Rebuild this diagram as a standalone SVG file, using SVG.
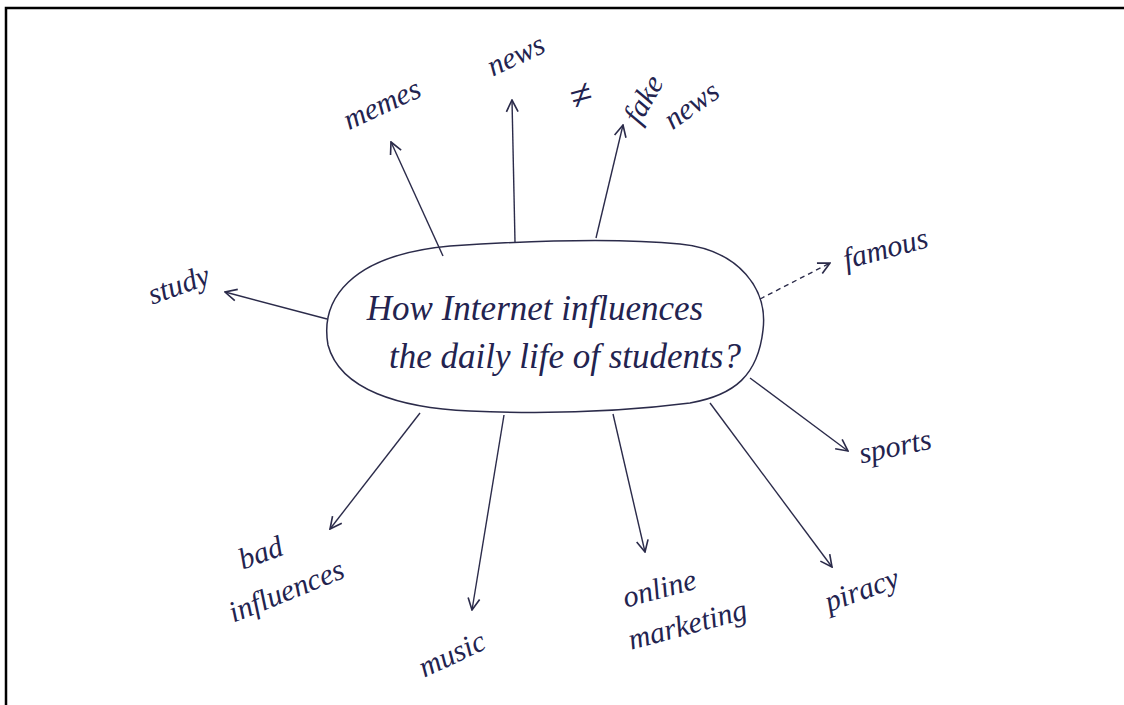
<svg xmlns="http://www.w3.org/2000/svg" width="1124" height="705" viewBox="0 0 1124 705">
<style>
.t{font-family:"Liberation Serif","DejaVu Serif",serif;font-style:italic;fill:#23234f;font-size:30px;text-anchor:middle}
.big{font-size:35px}
.ne{font-size:40px}
.c{fill:none;stroke:#2b2b4a;stroke-width:1.4}
.d{stroke-dasharray:5,4}
</style>
<defs>
<marker id="ah" viewBox="0 0 12 12" refX="11" refY="6" markerWidth="14" markerHeight="14" markerUnits="userSpaceOnUse" orient="auto">
<path d="M1,1 L11,6 L1,11" fill="none" stroke="#2b2b4a" stroke-width="1.4"/>
</marker>
</defs>
<rect width="1124" height="705" fill="#fff"/>
<path d="M6,705 V8 H1124" fill="none" stroke="#000" stroke-width="2.5"/>
<g id="center">
<path d="M450,246 C540,240 620,238 680,244 C740,250 768,290 763,330 C758,375 735,395 690,403 C620,412 540,414 470,411 C400,408 340,390 328,345 C320,300 350,255 450,246 Z" fill="none" stroke="#2b2b4a" stroke-width="1.5"/>
<text class="t big" x="535" y="320">How Internet influences</text>
<text class="t big" x="565" y="368">the daily life of students?</text>
</g>
<g id="connectors">
<line class="c" x1="443" y1="256" x2="391" y2="142" marker-end="url(#ah)"/>
<line class="c" x1="515" y1="242" x2="512" y2="100" marker-end="url(#ah)"/>
<line class="c" x1="596" y1="238" x2="623" y2="125" marker-end="url(#ah)"/>
<line class="c d" x1="760" y1="299" x2="830" y2="263" marker-end="url(#ah)"/>
<line class="c" x1="327" y1="319" x2="225" y2="292" marker-end="url(#ah)"/>
<line class="c" x1="420" y1="413" x2="330" y2="529" marker-end="url(#ah)"/>
<line class="c" x1="504" y1="415" x2="472" y2="610" marker-end="url(#ah)"/>
<line class="c" x1="613" y1="414" x2="645" y2="552" marker-end="url(#ah)"/>
<line class="c" x1="710" y1="403" x2="832" y2="567" marker-end="url(#ah)"/>
<line class="c" x1="750" y1="378" x2="848" y2="451" marker-end="url(#ah)"/>
</g>
<g id="memes"><text class="t" transform="translate(386,113) rotate(-25)">memes</text></g>
<g id="news"><text class="t" transform="translate(520,64) rotate(-25)">news</text></g>
<g id="fake-news">
<text class="t ne" transform="translate(584,108) rotate(-15)">≠</text>
<text class="t" transform="translate(652,104) rotate(-60)">fake</text>
<text class="t" transform="translate(697,113) rotate(-35)">news</text>
</g>
<g id="famous"><text class="t" transform="translate(888,258) rotate(-15)">famous</text></g>
<g id="study"><text class="t" transform="translate(182,294) rotate(-20)">study</text></g>
<g id="bad-influences">
<text class="t" transform="translate(264,562) rotate(-20)">bad</text>
<text class="t" transform="translate(290,600) rotate(-22)">influences</text>
</g>
<g id="music"><text class="t" transform="translate(456,663) rotate(-25)">music</text></g>
<g id="online-marketing">
<text class="t" transform="translate(662,598) rotate(-15)">online</text>
<text class="t" transform="translate(690,634) rotate(-15)">marketing</text>
</g>
<g id="piracy"><text class="t" transform="translate(865,599) rotate(-20)">piracy</text></g>
<g id="sports"><text class="t" transform="translate(897,456) rotate(-12)">sports</text></g>
</svg>
